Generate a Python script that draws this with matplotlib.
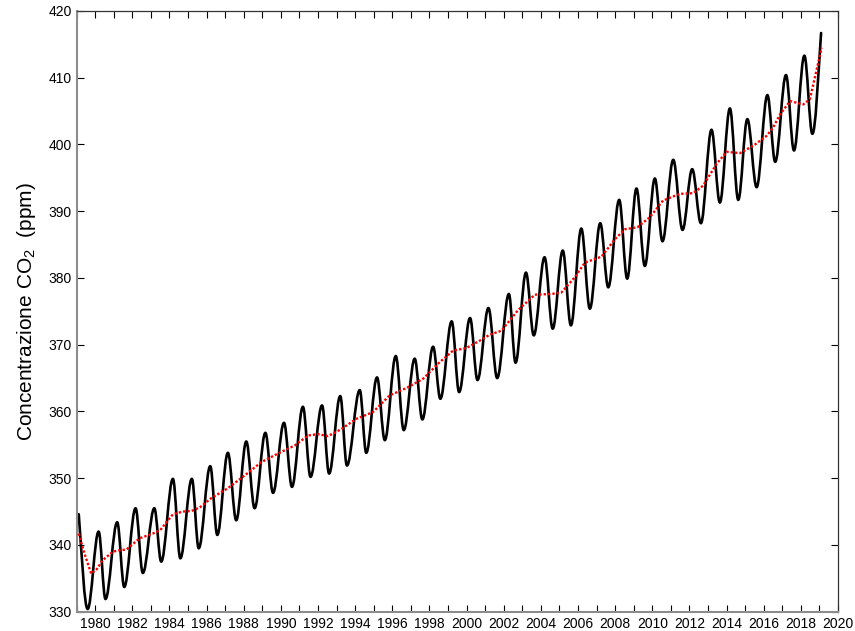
import matplotlib
matplotlib.use("Agg")
import matplotlib.pyplot as plt
from matplotlib.path import Path
from matplotlib.patches import PathPatch

plt.rcParams['font.family'] = ['Liberation Sans', 'DejaVu Sans']
plt.rcParams['mathtext.fontset'] = 'custom'
plt.rcParams['mathtext.rm'] = 'Liberation Sans'
plt.rcParams['mathtext.it'] = 'Liberation Sans:italic'

# Seasonal CO2 curve: successive extremes (start, troughs/peaks, end)
seasonal_years = [
    1979.12, 1979.60, 1980.19, 1980.56, 1981.19, 1981.57, 1982.18, 1982.57,
    1983.19, 1983.56, 1984.19, 1984.59, 1985.21, 1985.58, 1986.20, 1986.58,
    1987.15, 1987.60, 1988.14, 1988.59, 1989.17, 1989.58, 1990.17, 1990.60,
    1991.19, 1991.60, 1992.22, 1992.60, 1993.20, 1993.56, 1994.25, 1994.60,
    1995.18, 1995.60, 1996.19, 1996.62, 1997.21, 1997.62, 1998.20, 1998.59,
    1999.20, 1999.60, 2000.19, 2000.59, 2001.18, 2001.65, 2002.28, 2002.64,
    2003.20, 2003.62, 2004.20, 2004.64, 2005.18, 2005.62, 2006.18, 2006.64,
    2007.20, 2007.63, 2008.22, 2008.65, 2009.15, 2009.60, 2010.14, 2010.55,
    2011.13, 2011.63, 2012.15, 2012.62, 2013.19, 2013.64, 2014.18, 2014.63,
    2015.12, 2015.62, 2016.20, 2016.62, 2017.20, 2017.63, 2018.19, 2018.62,
    2019.09,
]
seasonal_ppm = [
    344.6, 330.4, 342.0, 331.9, 343.4, 333.7, 345.5, 335.8,
    345.5, 337.5, 349.9, 338.0, 349.9, 339.5, 351.8, 341.5,
    353.8, 343.7, 355.5, 345.5, 356.8, 347.8, 358.3, 348.7,
    360.7, 350.2, 360.9, 350.7, 362.3, 351.9, 363.2, 353.8,
    365.1, 355.7, 368.3, 357.2, 367.9, 358.8, 369.7, 361.9,
    373.5, 362.9, 374.0, 364.7, 375.5, 365.0, 377.6, 367.3,
    380.8, 371.4, 383.1, 372.4, 384.1, 372.9, 387.4, 375.4,
    388.2, 378.6, 391.7, 379.9, 393.4, 381.8, 394.9, 385.5,
    397.7, 387.2, 396.3, 388.2, 402.2, 391.3, 405.4, 391.7,
    403.8, 393.6, 407.4, 397.4, 410.4, 399.1, 413.3, 401.6,
    416.7,
]

# Deseasonalised trend (red dotted)
trend_years = [
    1979.12, 1979.43, 1979.79, 1980.10, 1980.40, 1980.96, 1981.30, 1981.68,
    1982.40, 1983.10, 1983.50, 1984.19, 1984.73, 1985.20, 1985.63, 1986.25,
    1987.15, 1988.05, 1988.95, 1989.85, 1990.75, 1991.47, 1992.00, 1992.54,
    1993.22, 1994.07, 1994.96, 1995.86, 1996.76, 1997.66, 1998.56, 1999.27,
    1999.99, 2000.71, 2001.25, 2001.88, 2002.78, 2003.68, 2004.57, 2005.10,
    2005.83, 2006.37, 2007.27, 2007.99, 2008.53, 2009.20, 2009.87, 2010.58,
    2011.48, 2012.20, 2012.73, 2013.47, 2014.00, 2014.72, 2015.44, 2016.16,
    2016.50, 2016.88, 2017.42, 2018.13, 2018.49, 2019.12,
]
trend_ppm = [
    341.7, 338.7, 335.7, 336.4, 337.7, 339.0, 339.2, 339.3,
    341.0, 341.7, 342.2, 344.6, 345.0, 345.1, 345.6, 347.0,
    348.5, 350.4, 352.4, 353.7, 354.9, 356.4, 356.6, 356.3,
    357.3, 358.9, 359.9, 362.4, 363.5, 364.9, 367.4, 369.1,
    369.5, 370.6, 371.5, 372.1, 375.2, 377.5, 377.6, 377.8,
    380.1, 382.3, 383.2, 385.8, 387.3, 387.6, 389.1, 391.6,
    392.6, 392.7, 393.8, 397.1, 398.9, 398.7, 399.8, 401.3,
    402.5, 404.5, 406.5, 406.0, 406.8, 414.5,
]

x_tick_years = list(range(1979, 2021))
x_tick_labels = [str(y) if y % 2 == 0 else '' for y in x_tick_years]
y_ticks = [330, 340, 350, 360, 370, 380, 390, 400, 410, 420]

fig = plt.figure(figsize=(8.55, 6.31), dpi=100)
ax = fig.add_axes([0.0895, 0.0306, 0.8906, 0.952])

# smooth seasonal curve through the extremes (cubic Bezier segments, horizontal tangents)
k = 0.36
verts = [(seasonal_years[0], seasonal_ppm[0])]
codes = [Path.MOVETO]
n = len(seasonal_years)
for i in range(1, n):
    t0, y0 = seasonal_years[i - 1], seasonal_ppm[i - 1]
    t1, y1 = seasonal_years[i], seasonal_ppm[i]
    dt = t1 - t0
    c1y, c2y = y0, y1
    if i == 1:
        c1y = y0 + 0.45 * (y1 - y0)
    if i == n - 1:
        c2y = y1 - 0.45 * (y1 - y0)
    verts += [(t0 + k * dt, c1y), (t1 - k * dt, c2y), (t1, y1)]
    codes += [Path.CURVE4] * 3
patch = PathPatch(Path(verts, codes), facecolor='none', edgecolor='black',
                  lw=1.9, capstyle='round', joinstyle='round', zorder=2)
ax.add_patch(patch)

ax.plot(trend_years, trend_ppm, color='#ff0000', lw=1.7, dashes=(1, 0.85), zorder=3)

ax.set_xlim(1979, 2020)
ax.set_ylim(330, 420)
ax.set_xticks(x_tick_years)
ax.set_xticklabels(x_tick_labels)
ax.set_yticks(y_ticks)
ax.tick_params(axis='both', which='both', direction='in', length=5, width=0.8,
               top=True, right=True, labelsize=10, colors='black', pad=3.5)

for side in ('left', 'bottom'):
    ax.spines[side].set_color('#8c8c8c')
    ax.spines[side].set_linewidth(1.5)
for side in ('top', 'right'):
    ax.spines[side].set_color('#333333')
    ax.spines[side].set_linewidth(0.9)

ax.set_ylabel('Concentrazione CO$_2$  (ppm)', fontsize=15)
ax.yaxis.set_label_coords(-0.051, 0.5)

fig.savefig('out.png', dpi=100)
